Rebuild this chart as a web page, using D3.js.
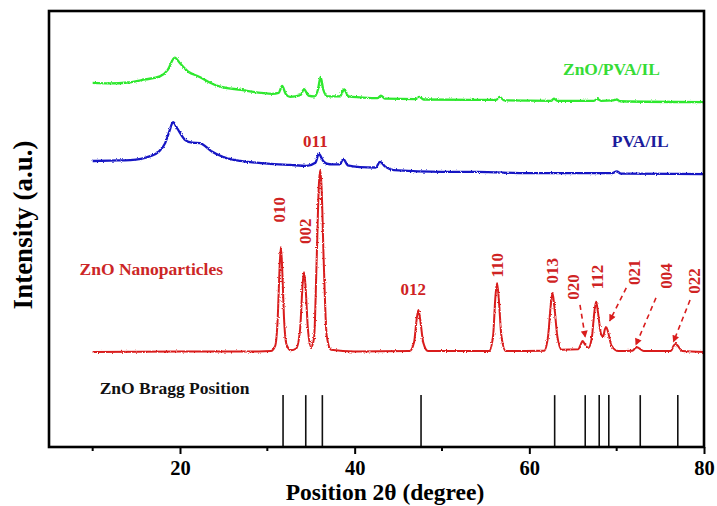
<!DOCTYPE html>
<html>
<head>
<meta charset="utf-8">
<script src="https://cdn.jsdelivr.net/npm/d3@7"></script>
<style>
    body { margin: 0; background: #fff; }
    svg text { font-family: "Liberation Serif", "Times New Roman", serif; font-weight: bold; }
</style>
</head>
<body>
<svg id="xrd" width="717" height="506"></svg>
<script>
// [2theta, intensity] (intensity in arbitrary units, offset traces)
var zno = [[10, 21.8], [20, 21.9], [29, 21.9], [30.4, 22.0], [30.9, 23.2], [31.2, 30], [31.4, 41], [31.55, 45.9], [31.7, 41], [31.9, 30], [32.2, 23.5],
    [32.7, 22.2], [33.3, 22.6], [33.75, 27], [34.05, 37.5], [34.2, 40.1], [34.35, 37.5], [34.65, 27], [35.0, 22.9], [35.35, 25],
    [35.65, 43], [35.9, 60], [36.05, 63.5], [36.2, 60], [36.45, 43], [36.8, 25.5], [37.3, 22.3], [40, 21.9], [46.3, 22.0], [46.8, 24],
    [47.1, 29.3], [47.3, 31.4], [47.5, 29.3], [47.85, 24], [48.4, 22], [55.4, 22.0], [55.85, 25.5], [56.1, 34], [56.3, 37.6], [56.5, 34],
    [56.8, 25.5], [57.3, 22.0], [61.7, 22.1], [62.15, 25.5], [62.45, 32.5], [62.65, 35.3], [62.85, 32.5], [63.2, 25.5], [63.7, 22.3],
    [65.6, 22.4], [65.9, 23.6], [66.1, 24.3], [66.35, 23.6], [66.75, 22.7], [67.15, 25], [67.45, 31], [67.65, 33.3], [67.85, 31],
    [68.2, 26], [68.45, 25.3], [68.65, 27], [68.8, 27.5], [69.0, 26.5], [69.4, 23.3], [70.2, 22.0], [71.8, 22.1], [72.15, 22.7],
    [72.35, 22.9], [72.6, 22.6], [73.1, 22.0], [76.2, 22.0], [76.55, 23.3], [76.75, 23.6], [77.0, 23.2], [77.5, 22.0], [80, 21.8]];

var pvaIl = [[10, 65.6], [12, 65.7], [14.3, 65.8], [16.6, 66.7], [17.6, 67.8], [18.3, 69.7], [18.8, 72.5], [19.2, 74.5], [19.7, 73],
    [20.6, 70.4], [21.4, 69.8], [22.3, 69.7], [23, 68.8], [23.7, 67.7], [25, 66.5], [26.9, 65.6], [30, 65.0], [32.6, 64.7],
    [34.5, 64.5], [35.5, 65.2], [35.9, 67.2], [36.4, 65.6], [36.8, 65.0], [37.5, 64.8], [38.3, 64.8], [38.7, 66.1], [39.2, 64.6],
    [40.6, 64.2], [42.4, 64.1], [42.9, 65.4], [43.5, 64.3], [44.5, 63.5], [50, 63.1], [54.0, 63.1], [60, 62.8], [69.5, 62.8],
    [70.0, 63.2], [70.5, 62.7], [80, 62.6]];

var znoPvaIl = [[10, 83.5], [12, 83.4], [14, 83.6], [16, 84.3], [17.7, 85], [18.6, 86.5], [19.4, 89.3], [20.0, 88], [21.0, 86],
    [22, 85.1], [24.2, 82.9], [27, 81.9], [30.6, 81.0], [31.3, 81.2], [31.7, 82.8], [32.1, 81], [32.6, 80.3], [33.8, 80.7],
    [34.2, 82.1], [34.7, 80.6], [35.4, 80.4], [35.8, 82], [36.1, 84.9], [36.4, 82], [36.9, 80.4], [38.3, 80.4], [38.8, 82.0],
    [39.3, 80.4], [40.6, 80.2], [42.6, 80.0], [43.0, 80.6], [43.5, 79.9], [47.0, 79.8], [47.4, 80.3], [47.9, 79.7], [56.2, 79.6],
    [56.6, 80.3], [57.1, 79.5], [62.5, 79.4], [62.8, 79.9], [63.2, 79.4], [67.4, 79.4], [67.8, 79.8], [68.2, 79.4], [69.6, 79.5],
    [70.0, 79.7], [70.4, 79.3], [80, 79.1]];

// reference pattern
var braggPos = [31.8, 34.4, 36.3, 47.6, 62.9, 66.4, 68.0, 69.1, 72.7, 77.0];
var braggTop = 11.9;

// hkl labels: name, anchor 2theta, anchor intensity, rotated?
var hklNames = ["010", "002", "011", "012", "110", "013", "020", "112", "021", "004", "022"];
var hklTheta = [32.0, 35.0, 35.5, 46.7, 57.0, 63.3, 65.7, 68.4, 72.7, 76.3, 79.5];
var hklInt = [54.4, 49.5, 68.8, 34.9, 41.7, 40.4, 36.7, 39.0, 40.1, 39.2, 38.1];
var hklRot = [true, true, false, false, true, true, true, true, true, true, true];

// dashed arrows: [from theta, from int, to theta, to int]
var arrows = [[65.8, 32.6, 66.4, 25.2], [71.1, 36.5, 69.2, 28.9], [74.5, 34.2, 72.2, 23.4], [78.4, 33.7, 76.5, 24.1]];

var xTicks = [20, 40, 60, 80];
var xMinor = [10, 30, 50, 70];

var margin = { top: 11, right: 13, bottom: 59, left: 49 },
    width = 717 - margin.left - margin.right,
    height = 506 - margin.top - margin.bottom;

var red = "#d91c1c", green = "#2fe82f", blue = "#1818c4";

var svg = d3.select("#xrd");

var defs = svg.append("defs");
defs.append("filter")
    .attr("id", "rough")
    .attr("filterUnits", "userSpaceOnUse")
    .attr("x", 0).attr("y", 0).attr("width", 717).attr("height", 506)
    .call(function (f) {
        f.append("feTurbulence").attr("type", "fractalNoise").attr("baseFrequency", 0.8).attr("numOctaves", 1).attr("seed", 4).attr("result", "n");
        f.append("feDisplacementMap").attr("in", "SourceGraphic").attr("in2", "n").attr("scale", 2.8)
            .attr("xChannelSelector", "R").attr("yChannelSelector", "G");
    });
defs.append("marker")
    .attr("id", "head")
    .attr("viewBox", "0 0 10 10")
    .attr("refX", 9).attr("refY", 5)
    .attr("markerWidth", 9).attr("markerHeight", 7)
    .attr("markerUnits", "userSpaceOnUse")
    .attr("orient", "auto")
    .append("path")
    .attr("d", "M0,0L10,5L0,10z")
    .attr("fill", red);

var g = svg.append("g")
    .attr("transform", "translate(" + margin.left + "," + margin.top + ")");

var x = d3.scaleLinear().domain([5, 80]).range([0, width]);
var y = d3.scaleLinear().domain([0, 100]).range([height, 0]);

var line = d3.line()
    .x(function (d) { return x(d[0]); })
    .y(function (d) { return y(d[1]); })
    .curve(d3.curveMonotoneX);

// traces
g.append("path").datum(znoPvaIl).attr("d", line)
    .attr("fill", "none").attr("stroke", green).attr("stroke-width", 2.3).attr("filter", "url(#rough)");
g.append("path").datum(pvaIl).attr("d", line)
    .attr("fill", "none").attr("stroke", blue).attr("stroke-width", 2.3).attr("filter", "url(#rough)");
g.append("path").datum(zno).attr("d", line)
    .attr("fill", "none").attr("stroke", red).attr("stroke-width", 2).attr("filter", "url(#rough)");

// bragg sticks
g.selectAll(".bragg")
    .data(braggPos)
    .enter().append("line")
    .attr("class", "bragg")
    .attr("x1", function (d) { return x(d); })
    .attr("x2", function (d) { return x(d); })
    .attr("y1", y(braggTop))
    .attr("y2", y(0))
    .attr("stroke", "#111")
    .attr("stroke-width", 1.6);

// hkl labels
hklNames.forEach(function (name, i) {
    var t = g.append("text")
        .attr("fill", "#cf2323")
        .attr("font-size", "17px")
        .attr("text-anchor", "middle")
        .text(name);
    if (hklRot[i]) {
        t.attr("transform", "translate(" + x(hklTheta[i]) + "," + y(hklInt[i]) + ") rotate(-90)");
    } else {
        t.attr("x", x(hklTheta[i])).attr("y", y(hklInt[i]));
    }
});

g.selectAll(".arrow")
    .data(arrows)
    .enter().append("line")
    .attr("class", "arrow")
    .attr("x1", function (d) { return x(d[0]); })
    .attr("y1", function (d) { return y(d[1]); })
    .attr("x2", function (d) { return x(d[2]); })
    .attr("y2", function (d) { return y(d[3]); })
    .attr("stroke", red)
    .attr("stroke-width", 1.6)
    .attr("stroke-dasharray", "5,4")
    .attr("marker-end", "url(#head)");

// series names
g.append("text").attr("x", x(69.4)).attr("y", y(85.3)).attr("text-anchor", "middle")
    .attr("font-size", "17.5px").attr("fill", "#36dc36").text("ZnO/PVA/IL");
g.append("text").attr("x", x(72.7)).attr("y", y(68.8)).attr("text-anchor", "middle")
    .attr("font-size", "17.5px").attr("fill", "#1c1c9c").text("PVA/IL");
g.append("text").attr("x", x(8.5)).attr("y", y(39.4)).attr("text-anchor", "start")
    .attr("font-size", "17.5px").attr("fill", "#cc2626").text("ZnO Nanoparticles");
g.append("text").attr("x", x(10.8)).attr("y", y(12.2)).attr("text-anchor", "start")
    .attr("font-size", "17.5px").attr("fill", "#111").text("ZnO Bragg Position");

// axes
var xAxis = g.append("g")
    .attr("transform", "translate(0," + height + ")")
    .call(d3.axisBottom(x).tickValues(xTicks).tickSize(7).tickFormat(d3.format("d")));
xAxis.select(".domain").remove();
xAxis.selectAll(".tick line").attr("stroke", "#000").attr("stroke-width", 2);
xAxis.selectAll(".tick text").attr("y", 28).attr("dy", 0)
    .attr("font-size", "20.5px").attr("fill", "#000")
    .style("font-family", "'Liberation Serif', serif").style("font-weight", "bold");

g.selectAll(".minor")
    .data(xMinor)
    .enter().append("line")
    .attr("x1", function (d) { return x(d); })
    .attr("x2", function (d) { return x(d); })
    .attr("y1", height)
    .attr("y2", height + 4)
    .attr("stroke", "#000")
    .attr("stroke-width", 2);

g.append("rect")
    .attr("width", width)
    .attr("height", height)
    .attr("fill", "none")
    .attr("stroke", "#000")
    .attr("stroke-width", 2.6);

svg.append("text")
    .attr("x", 385).attr("y", 500)
    .attr("text-anchor", "middle")
    .attr("font-size", "23.5px")
    .text("Position 2θ (degree)");

svg.append("text")
    .attr("transform", "translate(32,225) rotate(-90)")
    .attr("text-anchor", "middle")
    .attr("font-size", "27px")
    .text("Intensity (a.u.)");
</script>
</body>
</html>
